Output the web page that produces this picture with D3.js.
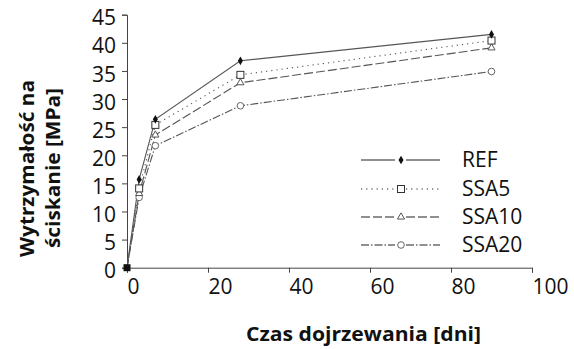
<!DOCTYPE html>
<html>
<head>
<meta charset="utf-8">
<script src="https://cdn.jsdelivr.net/npm/d3@7"></script>
<style>
  html, body { margin: 0; padding: 0; background: #fff; }
  svg { display: block; font-family: "Open Sans", "DejaVu Sans", sans-serif; }
</style>
</head>
<body>
<svg id="chart" width="574" height="349"></svg>
<script>
// Curing time (days) and compressive strength (MPa) per mix
const days = [0, 3, 7, 28, 90];
const seriesNames = ["REF", "SSA5", "SSA10", "SSA20"];
const ref   = [0, 15.7, 26.4, 36.8, 41.5];
const ssa5  = [0, 14.1, 25.4, 34.3, 40.4];
const ssa10 = [0, 13.2, 23.6, 32.9, 39.1];
const ssa20 = [0, 12.5, 21.7, 28.8, 34.9];
const xTicks = [0, 20, 40, 60, 80, 100];
const yTicks = [0, 5, 10, 15, 20, 25, 30, 35, 40, 45];

const series = [
  { name: seriesNames[0], values: ref,   dash: null,        marker: "diamond" },
  { name: seriesNames[1], values: ssa5,  dash: "1.2,4",     marker: "square" },
  { name: seriesNames[2], values: ssa10, dash: "9,3",       marker: "triangle" },
  { name: seriesNames[3], values: ssa20, dash: "8,2,1.5,2", marker: "circle" }
];

const svg = d3.select("#chart");
const x = d3.scaleLinear().domain([0, 100]).range([127, 532]);
const y = d3.scaleLinear().domain([0, 45]).range([267.7, 14.7]);
const axisColor = "#444";

// Axes
const gx = svg.append("g").attr("transform", `translate(0,${y(0)})`)
  .call(d3.axisBottom(x).tickValues(xTicks).tickSize(5).tickPadding(6).tickFormat(d3.format("d")));
gx.select(".domain").attr("stroke", axisColor);
gx.selectAll(".tick line").attr("stroke", axisColor);
gx.selectAll(".tick text").attr("text-anchor", "start").attr("x", 0)
  .attr("font-size", 21).attr("fill", "#111").attr("font-family", "Open Sans, sans-serif");

const gy = svg.append("g").attr("transform", `translate(${x(0)},0)`)
  .call(d3.axisLeft(y).tickValues(yTicks).tickSize(5).tickPadding(6));
gy.select(".domain").attr("stroke", axisColor);
gy.selectAll(".tick line").attr("stroke", axisColor);
gy.selectAll(".tick text").attr("font-size", 21).attr("fill", "#111").attr("dy", "0.48em")
  .attr("font-family", "Open Sans, sans-serif");

// Lines
const line = d3.line().x((d, i) => x(days[i])).y(d => y(d));
const plot = svg.append("g");
series.slice().reverse().forEach(s => {
  plot.append("path").datum(s.values)
    .attr("d", line)
    .attr("fill", "none")
    .attr("stroke", "#555")
    .attr("stroke-width", 1.1)
    .attr("stroke-dasharray", s.dash);
});

function drawMarker(g, type, cx, cy) {
  if (type === "diamond") {
    g.append("path").attr("d", d3.symbol(d3.symbolDiamond, 22)())
      .attr("transform", `translate(${cx},${cy})`).attr("fill", "#111");
  } else if (type === "square") {
    g.append("rect").attr("x", cx - 3.5).attr("y", cy - 3.5).attr("width", 7).attr("height", 7)
      .attr("fill", "#fff").attr("stroke", "#333").attr("stroke-width", 1);
  } else if (type === "triangle") {
    g.append("path").attr("d", d3.symbol(d3.symbolTriangle, 22)())
      .attr("transform", `translate(${cx},${cy})`).attr("fill", "#fff")
      .attr("stroke", "#555").attr("stroke-width", 1);
  } else {
    g.append("circle").attr("cx", cx).attr("cy", cy).attr("r", 3.3)
      .attr("fill", "#fff").attr("stroke", "#666").attr("stroke-width", 1);
  }
}

const marks = svg.append("g");
series.slice().reverse().forEach(s => {
  s.values.forEach((v, i) => {
    if (i === 0) return;
    drawMarker(marks, s.marker, x(days[i]), y(v));
  });
});
// Common origin point
marks.append("rect").attr("x", x(days[0]) - 3.5).attr("y", y(ref[0]) - 3.5)
  .attr("width", 7).attr("height", 7).attr("fill", "#111");

// Legend
const legendY = [160, 189, 217, 245];
const leg = svg.append("g");
series.forEach((s, i) => {
  const ly = legendY[i];
  leg.append("line").attr("x1", 361).attr("x2", 395).attr("y1", ly).attr("y2", ly)
    .attr("stroke", "#222").attr("stroke-width", 1.1).attr("stroke-dasharray", s.dash);
  leg.append("line").attr("x1", 406).attr("x2", 440).attr("y1", ly).attr("y2", ly)
    .attr("stroke", "#222").attr("stroke-width", 1.1).attr("stroke-dasharray", s.dash);
  drawMarker(leg, s.marker, 401, ly);
  leg.append("text").attr("x", 462).attr("y", ly + 7).attr("font-size", 21)
    .attr("fill", "#111").text(s.name);
});

// Axis titles
svg.append("text").attr("x", 246).attr("y", 341)
  .attr("font-size", 20).attr("font-weight", "bold").attr("fill", "#111")
  .attr("textLength", 235).attr("lengthAdjust", "spacingAndGlyphs")
  .text("Czas dojrzewania [dni]");

const yt = svg.append("g").attr("transform", "rotate(-90)");
yt.append("text").attr("x", -257).attr("y", 34)
  .attr("font-size", 20).attr("font-weight", "bold").attr("fill", "#111")
  .attr("textLength", 177).attr("lengthAdjust", "spacingAndGlyphs")
  .text("Wytrzymałość na");
yt.append("text").attr("x", -248).attr("y", 60)
  .attr("font-size", 20).attr("font-weight", "bold").attr("fill", "#111")
  .attr("textLength", 160).attr("lengthAdjust", "spacingAndGlyphs")
  .text("ściskanie [MPa]");
</script>
</body>
</html>
